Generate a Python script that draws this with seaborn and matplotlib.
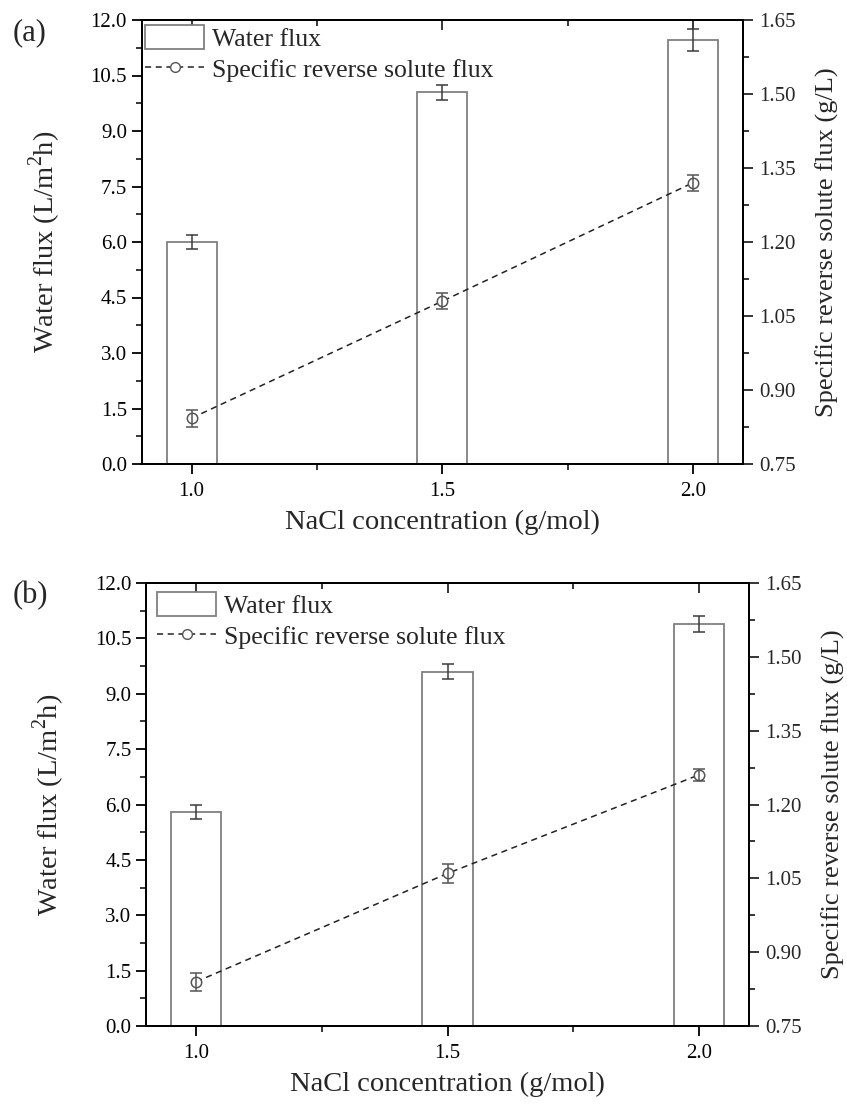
import matplotlib
matplotlib.use('Agg')
import matplotlib.pyplot as plt
import seaborn as sns
import numpy as np
import pandas as pd
from matplotlib.ticker import MultipleLocator, FormatStrFormatter
from matplotlib.patches import Patch
from matplotlib.lines import Line2D

# ---- data ----
conc = [1.0, 1.5, 2.0]
flux_a = [6.0, 10.05, 11.45]
flux_a_err = [0.2, 0.2, 0.3]
srsf_a = [0.843, 1.08, 1.32]
srsf_a_err = [0.017, 0.016, 0.016]

flux_b = [5.8, 9.6, 10.88]
flux_b_err = [0.2, 0.2, 0.22]
srsf_b = [0.84, 1.06, 1.26]
srsf_b_err = [0.018, 0.02, 0.013]

panel_labels = ["(a)", "(b)"]
xlabel = "NaCl concentration (g/mol)"
ylabel_left = "Water flux (L/m$^2$h)"
ylabel_right = "Specific reverse solute flux (g/L)"
legend_labels = ["Water flux", "Specific reverse solute flux"]

sns.set_style("ticks")
plt.rcParams['font.family'] = ['Liberation Serif', 'DejaVu Serif']
plt.rcParams['mathtext.fontset'] = 'custom'
plt.rcParams['mathtext.rm'] = 'Liberation Serif'

W, H = 847, 1106
fig = plt.figure(figsize=(W / 100, H / 100), dpi=100)

# axes boxes in pixels: left, top, right, bottom
boxes = [(141.5, 20, 743, 464), (146, 583, 749, 1026)]
# legend offset from axes top-left corner (pixels)
leg_off = [(3.5, 5), (11, 9)]
panel_pos = [(13, 18), (13, 581)]

BAR_EDGE = '#808080'
ERR_C = '#3a3a3a'
TICK_FS = 15
XLABEL_FS = 20.5
YLABEL_FS = 20.5
Y2LABEL_FS = 19
LEG_FS = 18.5

panels = [(flux_a, flux_a_err, srsf_a, srsf_a_err),
          (flux_b, flux_b_err, srsf_b, srsf_b_err)]

for i, ((fl, fle, sr, sre), (l, t, r, b)) in enumerate(zip(panels, boxes)):
    ax = fig.add_axes([l / W, 1 - b / H, (r - l) / W, (b - t) / H])
    df = pd.DataFrame({"conc": conc, "flux": fl})
    sns.barplot(data=df, x="conc", y="flux", native_scale=True, width=0.2,
                color='white', edgecolor=BAR_EDGE, linewidth=1.3,
                errorbar=None, ax=ax, zorder=2)
    ax.errorbar(conc, fl, yerr=fle, fmt='none', ecolor=ERR_C, elinewidth=1.1,
                capsize=4, capthick=1.1, zorder=3)
    ax.set_xlim(0.9, 2.1)
    ax.set_ylim(0, 12)
    ax.xaxis.set_major_locator(MultipleLocator(0.5))
    ax.xaxis.set_minor_locator(MultipleLocator(0.25))
    ax.xaxis.set_major_formatter(FormatStrFormatter('%.1f'))
    ax.yaxis.set_major_locator(MultipleLocator(1.5))
    ax.yaxis.set_minor_locator(MultipleLocator(0.75))
    ax.yaxis.set_major_formatter(FormatStrFormatter('%.1f'))
    ax.tick_params(axis='both', which='major', direction='out', length=7, width=1.3,
                   labelsize=TICK_FS, colors='black')
    ax.tick_params(axis='x', which='major', pad=6)
    ax.tick_params(axis='y', which='major', pad=3.5)
    ax.tick_params(axis='both', which='minor', direction='out', length=4, width=1.3)
    ax.set_xlabel(xlabel, fontsize=XLABEL_FS, labelpad=6)
    ax.set_ylabel(ylabel_left, fontsize=YLABEL_FS, labelpad=20)
    for s in ax.spines.values():
        s.set_linewidth(1.4)
        s.set_color('black')
        s.set_visible(True)

    # top ticks pointing inward
    secx = ax.secondary_xaxis('top')
    secx.xaxis.set_major_locator(MultipleLocator(0.5))
    secx.xaxis.set_minor_locator(MultipleLocator(0.25))
    secx.tick_params(axis='x', which='major', direction='in', length=7, width=1.3, labeltop=False)
    secx.tick_params(axis='x', which='minor', direction='in', length=4, width=1.3)
    secx.spines['top'].set_linewidth(1.4)

    ax2 = ax.twinx()
    dl = pd.DataFrame({"conc": conc, "srsf": sr})
    sns.lineplot(data=dl, x="conc", y="srsf", ax=ax2, color='#222222', linewidth=1.1,
                 linestyle=(0, (4, 3)), marker='o', markersize=7.5,
                 markerfacecolor='white', markeredgecolor='#555555', markeredgewidth=1.1,
                 zorder=4)
    ax2.errorbar(conc, sr, yerr=sre, fmt='none', ecolor='#555555', elinewidth=1.1,
                 capsize=4, capthick=1.1, zorder=5)
    ax2.set_ylim(0.75, 1.65)
    ax2.set_xlim(0.9, 2.1)
    ax2.yaxis.set_major_locator(MultipleLocator(0.15))
    ax2.yaxis.set_minor_locator(MultipleLocator(0.075))
    ax2.yaxis.set_major_formatter(FormatStrFormatter('%.2f'))
    ax2.tick_params(axis='y', which='major', direction='out', length=7, width=1.3,
                    labelsize=TICK_FS, pad=5)
    ax2.tick_params(axis='y', which='minor', direction='out', length=4, width=1.3)
    ax2.set_ylabel(ylabel_right, fontsize=Y2LABEL_FS, labelpad=14)
    ax2.set_xlabel("")
    for s in ax2.spines.values():
        s.set_linewidth(1.4)
        s.set_color('black')

    handles = [Patch(facecolor='white', edgecolor=BAR_EDGE, linewidth=1.3),
               Line2D([0], [0], color='#222222', linestyle=(0, (4, 3)), linewidth=1.1,
                      marker='o', markersize=7, markerfacecolor='white',
                      markeredgecolor='#555555')]
    ox, oy = leg_off[i]
    leg = ax2.legend(handles, legend_labels, loc='upper left', frameon=False,
                     bbox_to_anchor=(ox / (r - l), 1 - oy / (b - t)),
                     fontsize=LEG_FS, handlelength=2.3, handleheight=1.09,
                     handletextpad=0.3, borderaxespad=0, labelspacing=0.2,
                     borderpad=0)

    px, py = panel_pos[i]
    fig.text(px / W, 1 - py / H, panel_labels[i], fontsize=22, va='top', ha='left')

fig.savefig('out.png', dpi=100)
